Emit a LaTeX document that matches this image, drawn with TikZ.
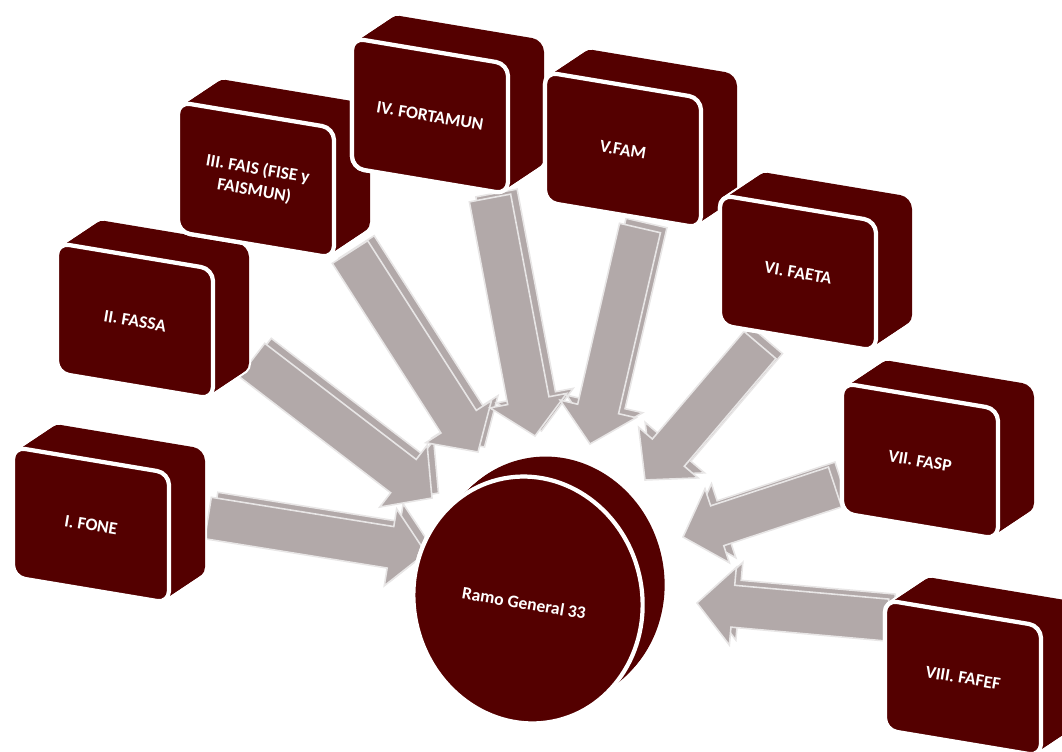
\documentclass[tikz,border=0pt]{standalone}
\usepackage{fontspec}
\setmainfont{Carlito}
\usetikzlibrary{calc}
\definecolor{maroon}{RGB}{84,0,0}
\definecolor{flowgray}{RGB}{178,169,169}
\definecolor{flowedge}{RGB}{232,230,230}
\tikzset{boxrim/.style={draw=white, line width=2.4pt}}
\tikzset{boxside/.style={fill=maroon}}
\tikzset{boxface/.style={fill=maroon, draw=white, line width=2.4pt}}
\tikzset{boxtext/.style={text=white, font=\bfseries\fontsize{10}{12.5}\selectfont, align=center, rotate=-9.5}}
\tikzset{flow/.style={fill=flowgray, draw=flowedge, line width=0.9pt, line join=miter}}
\def\shaftw{0.42cm}
\def\headw{0.78cm}
\def\headlen{0.72cm}
% block arrow outline from #1 to #2
\newcommand\flowshape[2]{($(#1)!\shaftw!90:(#2)$) -- ($(#1n)!\shaftw!90:(#2)$) -- ($(#1n)!\headw!90:(#2)$) -- (#2) -- ($(#1n)!\headw!-90:(#2)$) -- ($(#1n)!\shaftw!-90:(#2)$) -- ($(#1)!\shaftw!-90:(#2)$) -- cycle}
\newcommand\flow[2]{%
  \coordinate (#1n) at ($(#2)!\headlen!(#1)$);
  \filldraw[flow, transform canvas={shift={(0.13cm,0.1cm)}}] \flowshape{#1}{#2};
  \filldraw[flow] \flowshape{#1}{#2};
}
% extruded box: x, y, name, text
\newcommand\cube[4]{%
  \foreach \t in {0,0.05,...,1.0001}
    \draw[boxrim, rounded corners=0.24cm, shift={(36*\t,-24*\t)}] (#1,#2) -- ++(156,26) -- ++(0,130) -- ++(-156,-26) -- cycle;
  \foreach \t in {0,0.05,...,1.0001}
    \fill[boxside, rounded corners=0.24cm, shift={(36*\t,-24*\t)}] (#1,#2) -- ++(156,26) -- ++(0,130) -- ++(-156,-26) -- cycle;
  \filldraw[boxface, rounded corners=0.24cm] (#1,#2) -- ++(156,26) -- ++(0,130) -- ++(-156,-26) -- cycle;
  \node[boxtext] (#3) at (#1+78,#2+78) {#4};
}

\begin{document}
\begin{tikzpicture}[x=0.02cm, y=-0.02cm]
\useasboundingbox (0,0) rectangle (1062,751);

% arrows: tail a, tip b
\coordinate (a1) at (208,518); \coordinate (b1) at (426,553);
\coordinate (a2) at (252,360); \coordinate (b2) at (432,498);
\coordinate (a3) at (350,252); \coordinate (b3) at (478,452);
\coordinate (a4) at (490,198); \coordinate (b4) at (535,436);
\coordinate (a5) at (640,228); \coordinate (b5) at (590,444);
\coordinate (a6) at (760,345); \coordinate (b6) at (645,480);
\coordinate (a7) at (835,487); \coordinate (b7) at (683,537);
\coordinate (a8) at (887,620); \coordinate (b8) at (697,603);
\foreach \i in {1,...,8}
  \flow{a\i}{b\i};

% boxes
\cube{13}{447}{fone}{I. FONE}
\cube{57}{243}{fassa}{II. FASSA}
\cube{178}{102}{fais}{III. FAIS (FISE y\\FAISMUN)}
\cube{352}{38}{fortamun}{IV. FORTAMUN}
\cube{545}{72}{fam}{V.FAM}
\cube{720}{195}{faeta}{VI. FAETA}
\cube{842}{383}{fasp}{VII. FASP}
\cube{885}{600}{fafef}{VIII. FAFEF}

% centre disc
\foreach \t in {0,0.05,...,1.0001}
  \draw[boxrim, shift={(22*\t,-20*\t)}] (528,600) ellipse [x radius=114, y radius=124, rotate=14];
\foreach \t in {0,0.05,...,1.0001}
  \fill[boxside, shift={(22*\t,-20*\t)}] (528,600) ellipse [x radius=114, y radius=124, rotate=14];
\filldraw[boxface] (528,600) ellipse [x radius=114, y radius=124, rotate=14];
\node[boxtext] (ramo) at (524,603) {Ramo General 33};

\end{tikzpicture}
\end{document}
